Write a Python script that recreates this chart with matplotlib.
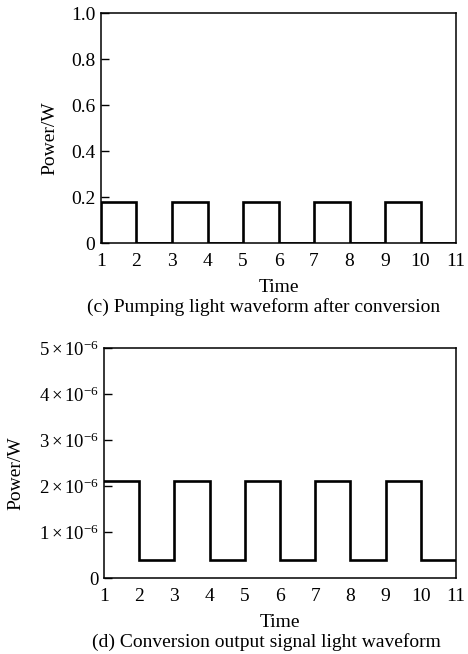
import matplotlib
matplotlib.use("Agg")
import matplotlib.pyplot as plt
from matplotlib.ticker import FixedLocator

plt.rcParams['font.family'] = ['Liberation Serif', 'DejaVu Serif']
plt.rcParams['mathtext.fontset'] = 'custom'
plt.rcParams['mathtext.rm'] = 'Liberation Serif'
plt.rcParams['mathtext.it'] = 'Liberation Serif:italic'

# ---- data ----
time_edges = [1, 2, 3, 4, 5, 6, 7, 8, 9, 10, 11]
pump_levels = [0.18, 0, 0.18, 0, 0.18, 0, 0.18, 0, 0.18, 0]
signal_levels = [2.1e-6, 0.4e-6, 2.1e-6, 0.4e-6, 2.1e-6, 0.4e-6, 2.1e-6, 0.4e-6, 2.1e-6, 0.4e-6]
x_ticks = [1, 2, 3, 4, 5, 6, 7, 8, 9, 10, 11]
pump_yticks = [0, 0.2, 0.4, 0.6, 0.8, 1.0]
pump_yticklabels = ['0', '0.2', '0.4', '0.6', '0.8', '1.0']
signal_yticks = [0, 1e-6, 2e-6, 3e-6, 4e-6, 5e-6]
signal_yticklabels = ['0', r'$1\times10^{-6}$', r'$2\times10^{-6}$', r'$3\times10^{-6}$',
                      r'$4\times10^{-6}$', r'$5\times10^{-6}$']
title_c = '(c) Pumping light waveform after conversion'
title_d = '(d) Conversion output signal light waveform'

fig = plt.figure(figsize=(4.68, 6.54), dpi=100)
FS = 14

def style(ax, yticks, ylabels, tfs):
    ax.set_xlim(1, 11)
    ax.xaxis.set_major_locator(FixedLocator(x_ticks))
    ax.set_xticklabels([str(t) for t in x_ticks])
    ax.set_yticks(yticks)
    ax.set_yticklabels(ylabels)
    ax.tick_params(axis='y', direction='in', length=6, width=1, pad=4, labelsize=tfs)
    ax.tick_params(axis='x', length=0, pad=7, labelsize=FS)
    for s in ax.spines.values():
        s.set_linewidth(1.1)
    ax.set_xlabel('Time', fontsize=FS, labelpad=7)
    ax.set_ylabel('Power/W', fontsize=FS)

def stepxy(edges, levels):
    xs, ys = [], []
    for i, v in enumerate(levels):
        xs += [edges[i], edges[i + 1]]
        ys += [v, v]
    return xs, ys

ax1 = fig.add_axes([0.2158, 0.6284, 0.7586, 0.3516])
xs, ys = stepxy(time_edges, pump_levels)
ax1.plot([time_edges[0]] + xs, [0] + ys, color='black', lw=1.9, solid_joinstyle='miter')
ax1.set_ylim(0, 1.0)
style(ax1, pump_yticks, pump_yticklabels, FS)
ax1.yaxis.set_label_coords(-0.12, 0.455)
fig.text(87 / 468, 1 - 307 / 654, title_c, fontsize=FS, ha='left', va='center')

ax2 = fig.add_axes([0.2222, 0.1162, 0.7522, 0.3517])
xs, ys = stepxy(time_edges, signal_levels)
ax2.plot(xs, ys, color='black', lw=1.9, solid_joinstyle='miter')
ax2.set_ylim(0, 5e-6)
style(ax2, signal_yticks, signal_yticklabels, 13.5)
ax2.yaxis.set_label_coords(-0.225, 0.455)
fig.text(92 / 468, 1 - 642 / 654, title_d, fontsize=FS, ha='left', va='center')

fig.savefig('out.png', dpi=100)
